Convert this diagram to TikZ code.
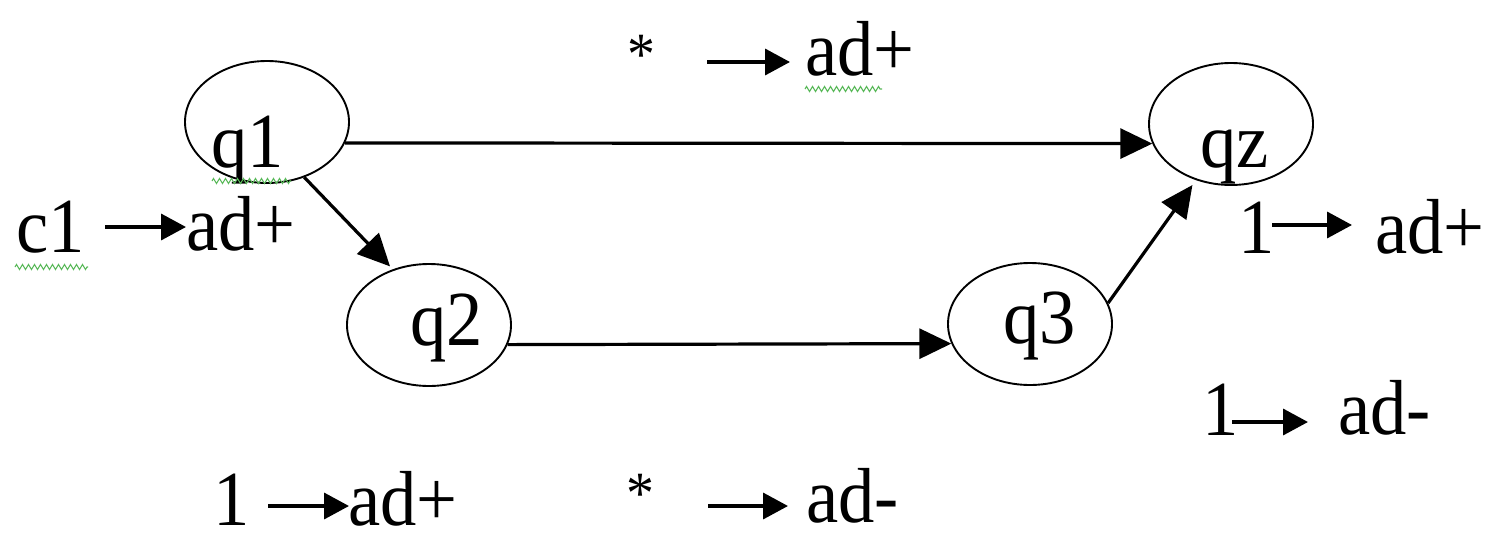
\documentclass[tikz,border=0pt]{standalone}
\usepackage{fontspec}
\setmainfont[FakeStretch=0.93]{Liberation Serif}
\usetikzlibrary{shapes.geometric,arrows.meta,decorations.pathmorphing}
\definecolor{spellgreen}{RGB}{90,185,90}
\begin{document}
\begin{tikzpicture}[x=1pt,y=-1pt,
  state/.style={ellipse, draw, line width=1.9pt, minimum width=164pt, minimum height=122pt, inner sep=0pt},
  conn/.style={line width=3.2pt, -{Triangle[length=32pt,width=30pt]}},
  lblarrow/.style={line width=3.6pt, -{Triangle[length=25pt,width=26pt]}},
  txt/.style={anchor=base west, inner sep=0pt, font=\fontsize{78}{82}\selectfont},
  star/.style={anchor=base west, inner sep=0pt, font=\fontsize{60}{64}\selectfont},
  spell/.style={draw=spellgreen, line width=1.1pt, decorate, decoration={zigzag, segment length=6pt, amplitude=2.5pt}}]
\useasboundingbox (0,0) rectangle (1495,533);
% states
\node[state] (q1) at (267,122) {};
\node[state] (qz) at (1231,124) {};
\node[state] (q2) at (429,325) {};
\node[state] (q3) at (1030,324) {};
\node[txt] (q1t) at (211,167) {q1};
\node[txt] (qzt) at (1200,167) {qz};
\node[txt] (q2t) at (410,345) {q2};
\node[txt] (q3t) at (1003,343) {q3};
% connectors
\draw[conn] (q1.-15) -- (qz.194);
\draw[conn, shorten >=4pt] (q1.-56) -- (q2.123);
\draw[conn] (q2.-14) -- (q3.194);
\draw[conn, shorten >=6pt] (q3.15) -- (qz.238);
% labels: top
\node[star] (s1) at (627,74) {*};
\coordinate (a1s) at (707,62); \coordinate (a1e) at (790,62);
\draw[lblarrow] (a1s) -- (a1e);
\node[txt] (l1) at (805,75) {ad+};
% c1 -> ad+
\node[txt] (c1) at (16,252) {c1};
\coordinate (a2s) at (105,227); \coordinate (a2e) at (186,227);
\draw[lblarrow] (a2s) -- (a2e);
\node[txt] (l2) at (186,250) {ad+};
% right 1 -> ad+
\node[txt] (o1) at (1238,253) {1};
\coordinate (a3s) at (1272,225); \coordinate (a3e) at (1352,225);
\draw[lblarrow] (a3s) -- (a3e);
\node[txt] (l3) at (1375,253) {ad+};
% right 1 -> ad-
\node[txt] (o2) at (1202,435) {1};
\coordinate (a4s) at (1232,422); \coordinate (a4e) at (1308,422);
\draw[lblarrow] (a4s) -- (a4e);
\node[txt] (l4) at (1338,434) {ad-};
% bottom 1 -> ad+
\node[txt] (o3) at (213,525) {1};
\coordinate (a5s) at (268,506); \coordinate (a5e) at (349,506);
\draw[lblarrow] (a5s) -- (a5e);
\node[txt] (l5) at (348,525) {ad+};
% bottom * -> ad-
\node[star] (s2) at (626,513) {*};
\coordinate (a6s) at (708,506); \coordinate (a6e) at (788,506);
\draw[lblarrow] (a6s) -- (a6e);
\node[txt] (l6) at (806,522) {ad-};
% spell-check marks
\coordinate (w1s) at (15,267); \coordinate (w1e) at (88,267);
\draw[spell] (w1s) -- (w1e);
\coordinate (w2s) at (212,181); \coordinate (w2e) at (291,181);
\draw[spell] (w2s) -- (w2e);
\coordinate (w3s) at (805,89); \coordinate (w3e) at (882,89);
\draw[spell] (w3s) -- (w3e);
\end{tikzpicture}
\end{document}
